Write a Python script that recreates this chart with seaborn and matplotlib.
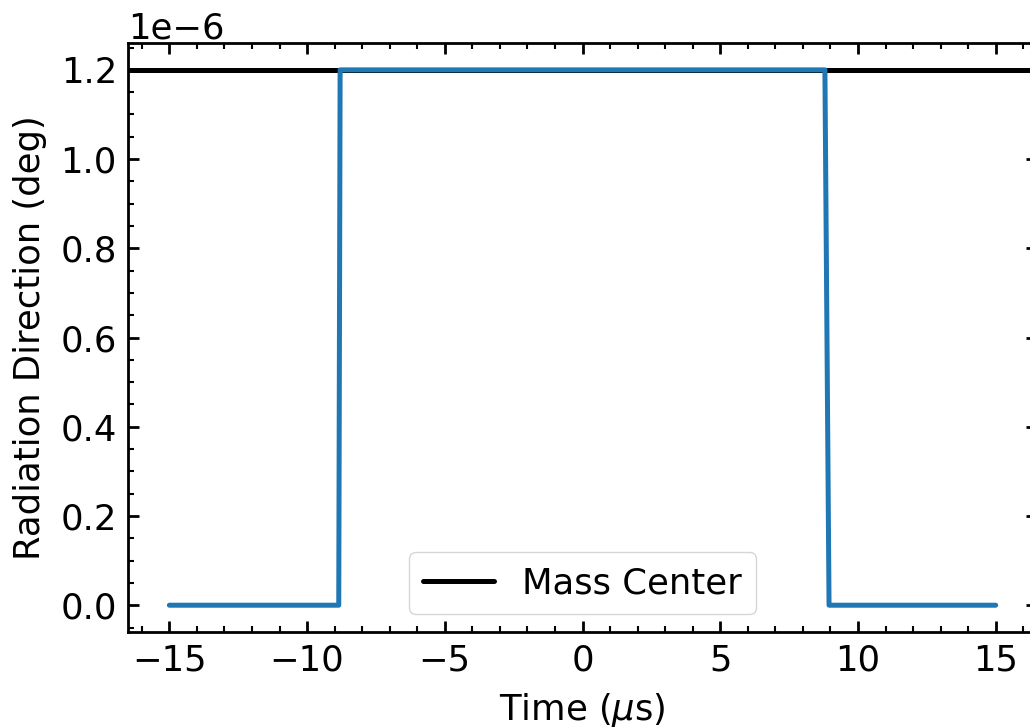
import matplotlib
matplotlib.use("Agg")
from matplotlib import pyplot as plt
from matplotlib.ticker import MultipleLocator
import seaborn as sns
import pandas as pd

# data
time_us = [-15, -8.85, -8.8, 8.8, 8.95, 15]
direction_deg = [0, 0, 1.2e-6, 1.2e-6, 0, 0]
mass_center = 1.2e-6

sns.set_style("ticks")
plt.rcParams['font.family'] = ['DejaVu Sans']
plt.rcParams['mathtext.fontset'] = 'dejavusans'
for k in ['text.color', 'axes.labelcolor', 'xtick.color', 'ytick.color', 'axes.edgecolor']:
    plt.rcParams[k] = 'black'
fs = 25.5
plt.rcParams['font.size'] = fs

df = pd.DataFrame({'time': time_us, 'dir': direction_deg})

fig = plt.figure(figsize=(10.30, 7.27), dpi=100)
ax = fig.add_axes([0.1243, 0.1307, 0.8825, 0.810])

ax.axhline(mass_center, color='black', linewidth=3.6, label='Mass Center', zorder=2)
sns.lineplot(data=df, x='time', y='dir', ax=ax, color='#1f77b4', linewidth=3.6,
             legend=False, zorder=3, label='_nolegend_')

ax.set_xlim(-16.5, 16.5)
ax.set_ylim(-0.06e-6, 1.26e-6)
ax.xaxis.set_major_locator(MultipleLocator(5))
ax.xaxis.set_minor_locator(MultipleLocator(1))
ax.yaxis.set_major_locator(MultipleLocator(0.2e-6))
ax.yaxis.set_minor_locator(MultipleLocator(0.05e-6))

ax.tick_params(which='both', direction='in', top=True, right=True, labelsize=fs)
ax.tick_params(which='major', length=8, width=2.0, pad=8)
ax.tick_params(which='minor', length=4, width=1.5)
for s in ax.spines.values():
    s.set_linewidth(2.0)
ax.yaxis.get_offset_text().set_fontsize(fs)

ax.set_xlabel(r'Time ($\mu$s)', fontsize=fs, labelpad=10)
ax.set_ylabel('Radiation Direction (deg)', fontsize=fs, labelpad=10)
leg = ax.legend(loc='lower center', fontsize=fs, handlelength=2)
leg.get_frame().set_edgecolor('#cccccc')

fig.savefig('out.png', dpi=100)
